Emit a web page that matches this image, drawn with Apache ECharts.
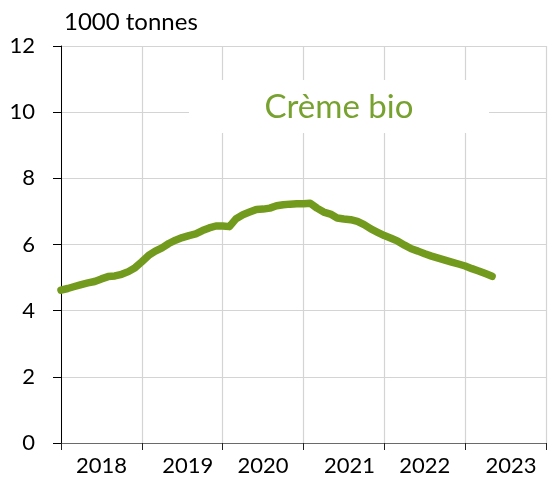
<!DOCTYPE html>
<html>
<head>
<meta charset="utf-8">
<script src="https://cdn.jsdelivr.net/npm/echarts@6/dist/echarts.min.js"></script>
<style>
  html, body { margin: 0; padding: 0; background: #fff; }
  #chart { width: 554px; height: 479px; }
</style>
</head>
<body>
<div id="chart"></div>
<script>
// Year bands on the horizontal axis
const years = ['2018', '2019', '2020', '2021', '2022', '2023'];

// Monthly volumes (1000 tonnes), from January 2018 onwards
const volumes = [
  4.62, 4.67, 4.73, 4.79, 4.84, 4.88, 4.96, 5.03, 5.05, 5.10, 5.18, 5.30,
  5.48, 5.67, 5.80, 5.90, 6.03, 6.13, 6.21, 6.27, 6.32, 6.42, 6.50, 6.56,
  6.56, 6.54, 6.78, 6.90, 6.98, 7.06, 7.07, 7.10, 7.17, 7.20, 7.22, 7.23,
  7.23, 7.25, 7.10, 6.98, 6.92, 6.80, 6.77, 6.75, 6.70, 6.60, 6.47, 6.37,
  6.27, 6.19, 6.10, 5.98, 5.87, 5.80, 5.72, 5.65, 5.59, 5.53, 5.47, 5.41,
  5.35, 5.27, 5.20, 5.12, 5.04
];

const yTicks = [0, 2, 4, 6, 8, 10, 12];
const unitLabel = '1000 tonnes';
const seriesTitle = 'Crème bio';

const lineGreen = '#729a1c';
const textGreen = '#78a22f';
const gridGrey = '#d4d4d4';
const font = 'Lato, "Open Sans", sans-serif';

const points = volumes.map((v, i) => [i, v]);

const chart = echarts.init(document.getElementById('chart'), null, { renderer: 'canvas' });

chart.setOption({
  animation: false,
  backgroundColor: '#fff',
  grid: { left: 61, right: 8, top: 46, bottom: 36, containLabel: false },
  xAxis: [
    {
      type: 'category',
      data: years,
      boundaryGap: true,
      axisLine: { show: true, lineStyle: { color: '#6a6a6a', width: 1 } },
      axisTick: { show: true, interval: 0, alignWithLabel: false, length: 7, lineStyle: { color: '#222' } },
      axisLabel: {
        interval: 0,
        hideOverlap: false,
        margin: 12,
        color: '#000',
        fontFamily: font,
        fontSize: 22,
        formatter: (v, i) => (i % 2 === 1 ? '{s|' + v + '}' : v),
        rich: { s: { padding: [0, 0, 0, 11], fontFamily: font, fontSize: 22, color: '#000' } }
      },
      splitLine: { show: true, interval: 0, lineStyle: { color: gridGrey, width: 1.2 } }
    },
    {
      type: 'value',
      min: 0,
      max: 72,
      show: false
    }
  ],
  yAxis: {
    type: 'value',
    min: yTicks[0],
    max: yTicks[yTicks.length - 1],
    interval: 2,
    axisLine: { show: true, lineStyle: { color: '#000', width: 1 } },
    axisTick: { show: true, length: 8, lineStyle: { color: '#000' } },
    axisLabel: { margin: 26, color: '#000', fontFamily: font, fontSize: 22 },
    splitLine: { show: true, lineStyle: { color: gridGrey, width: 1.2 } }
  },
  graphic: [
    {
      type: 'rect',
      z: 50,
      shape: { x: 189, y: 80, width: 300, height: 53 },
      style: { fill: '#fff' }
    },
    {
      type: 'text',
      z: 51,
      x: 339,
      y: 107,
      style: {
        text: seriesTitle,
        fill: textGreen,
        font: '33px ' + font,
        textAlign: 'center',
        textVerticalAlign: 'middle'
      }
    },
    {
      type: 'text',
      z: 51,
      x: 64,
      y: 22,
      style: {
        text: unitLabel,
        fill: '#000',
        font: '24px ' + font,
        textAlign: 'left',
        textVerticalAlign: 'middle'
      }
    }
  ],
  series: [
    {
      type: 'line',
      xAxisIndex: 1,
      data: points,
      showSymbol: false,
      symbol: 'none',
      smooth: false,
      lineStyle: { color: lineGreen, width: 7.5, cap: 'round', join: 'round' },
      z: 10
    }
  ]
});
</script>
</body>
</html>
